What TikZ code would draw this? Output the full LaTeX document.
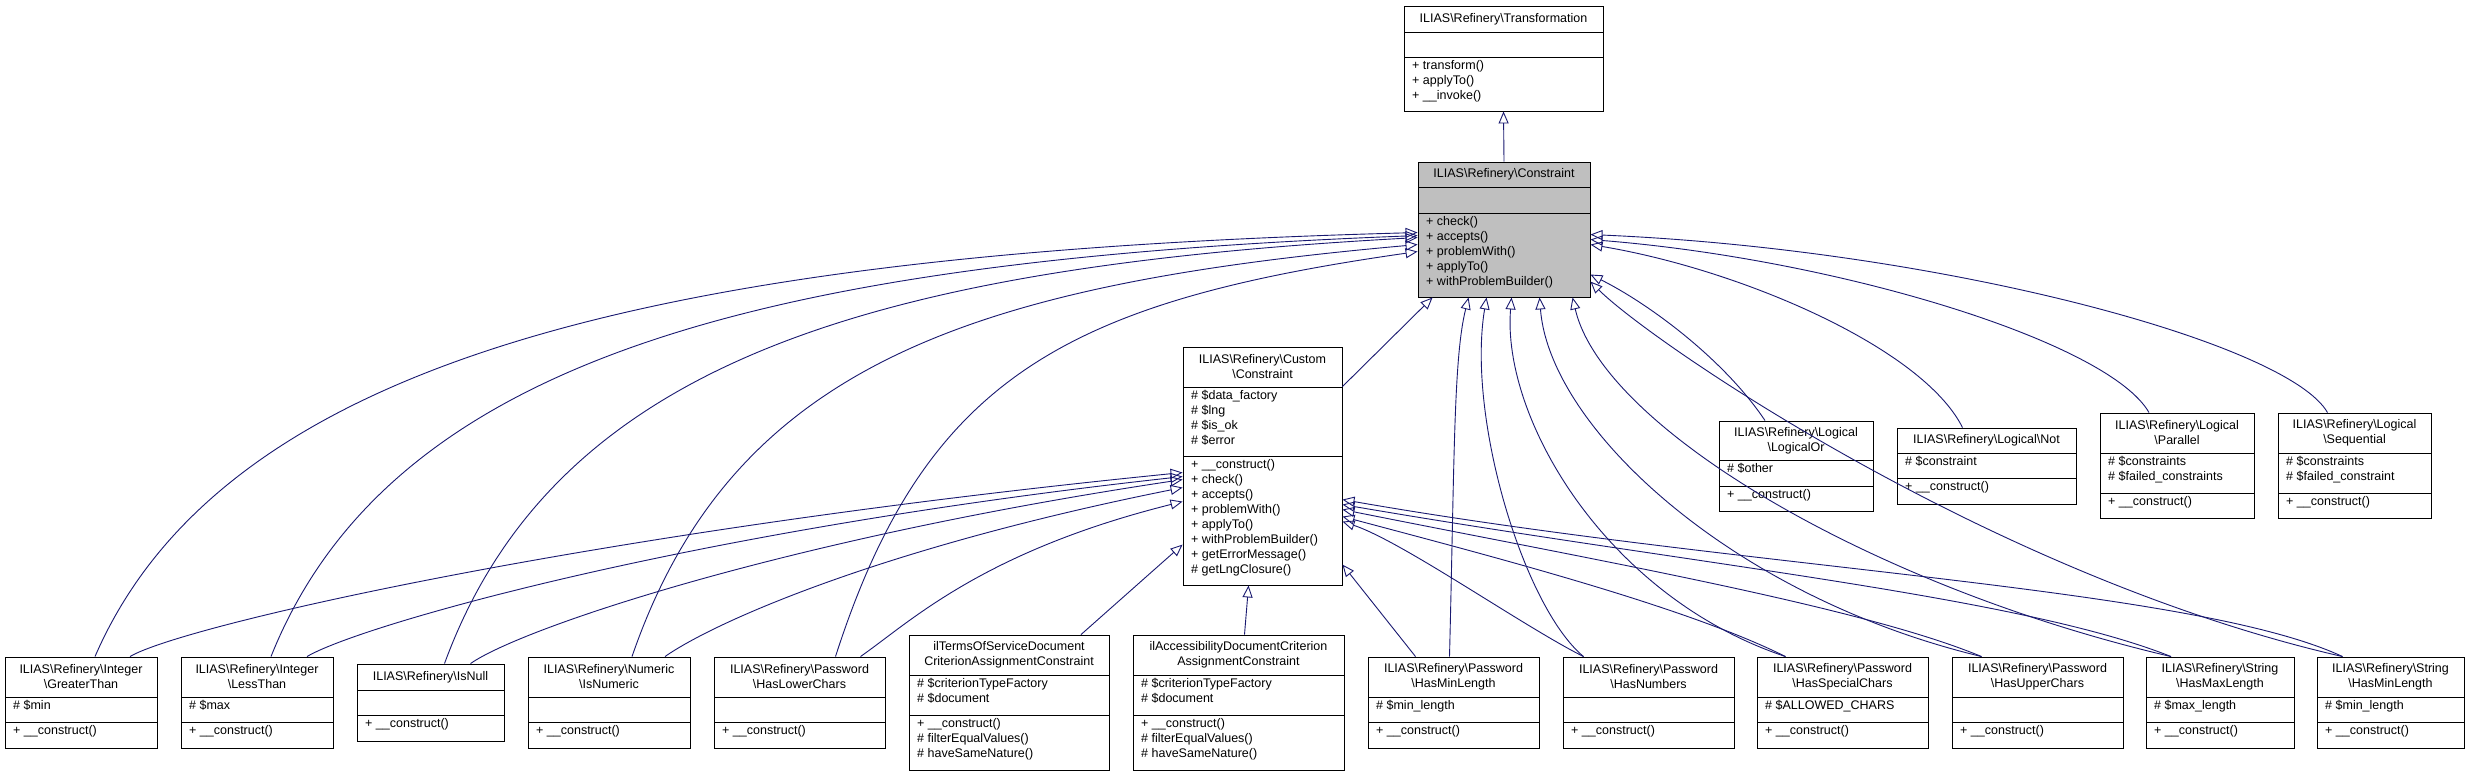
\documentclass[tikz,border=0pt]{standalone}
\usepackage{fontspec}
\setmainfont{Liberation Sans}
\usetikzlibrary{fit,arrows.meta}
\definecolor{navy}{HTML}{191970}
\definecolor{gbox}{HTML}{BFBFBF}
\newcommand\bsl{\textbackslash}
\newcommand\cls[8]{%
  \node[draw=black, line width=0.9pt, fill=#8, inner sep=0, fit={(#2,#4) (#3,#7)}] (#1) {};
  \draw[line width=0.9pt] (#2,#5) -- (#3,#5) (#2,#6) -- (#3,#6);}
\newcommand\ttl[5]{\node[txt, align=center] at ({(#1+#2)/2},{(#3+#4)/2}) {#5};}
\newcommand\lst[3]{\node[txt, anchor=north west, align=left] at ({#1+8},{#2+3}) {#3};}
\begin{document}
\begin{tikzpicture}[x=1pt,y=-1pt,
  txt/.style={inner sep=0, font=\fontsize{12.5}{15}\selectfont},
  ed/.style={draw=navy, line width=0.9pt, -{Triangle[open,length=12pt,width=10pt]}}]
\useasboundingbox[fill=white] (0,0) rectangle (2469,772);
% boxes
\cls{trans}{1404}{1603}{6}{32}{57}{111}{white}
\ttl{1404}{1603}{6}{32}{ILIAS\bsl Refinery\bsl Transformation}
\lst{1404}{57}{+ transform()\\+ applyTo()\\+ \_\_invoke()}
\cls{cons}{1418}{1590}{162}{187}{213}{297}{gbox}
\ttl{1418}{1590}{162}{187}{ILIAS\bsl Refinery\bsl Constraint}
\lst{1418}{213}{+ check()\\+ accepts()\\+ problemWith()\\+ applyTo()\\+ withProblemBuilder()}
\cls{custom}{1183}{1342}{347}{387}{456}{585}{white}
\ttl{1183}{1342}{347}{387}{ILIAS\bsl Refinery\bsl Custom\\\bsl Constraint}
\lst{1183}{387}{\# \$data\_factory\\\# \$lng\\\# \$is\_ok\\\# \$error}
\lst{1183}{456}{+ \_\_construct()\\+ check()\\+ accepts()\\+ problemWith()\\+ applyTo()\\+ withProblemBuilder()\\+ getErrorMessage()\\\# getLngClosure()}
\cls{gt}{5}{157}{657}{697}{722}{748}{white}
\ttl{5}{157}{657}{697}{ILIAS\bsl Refinery\bsl Integer\\\bsl GreaterThan}
\lst{5}{697}{\# \$min}\lst{5}{722}{+ \_\_construct()}
\cls{lt}{181}{333}{657}{697}{722}{748}{white}
\ttl{181}{333}{657}{697}{ILIAS\bsl Refinery\bsl Integer\\\bsl LessThan}
\lst{181}{697}{\# \$max}\lst{181}{722}{+ \_\_construct()}
\cls{isnull}{357}{504}{664}{690}{715}{741}{white}
\ttl{357}{504}{664}{690}{ILIAS\bsl Refinery\bsl IsNull}
\lst{357}{715}{+ \_\_construct()}
\cls{isnum}{528}{690}{657}{697}{722}{748}{white}
\ttl{528}{690}{657}{697}{ILIAS\bsl Refinery\bsl Numeric\\\bsl IsNumeric}
\lst{528}{722}{+ \_\_construct()}
\cls{lower}{714}{885}{657}{697}{722}{748}{white}
\ttl{714}{885}{657}{697}{ILIAS\bsl Refinery\bsl Password\\\bsl HasLowerChars}
\lst{714}{722}{+ \_\_construct()}
\cls{tos}{909}{1109}{635}{675}{715}{770}{white}
\ttl{909}{1109}{635}{675}{ilTermsOfServiceDocument\\CriterionAssignmentConstraint}
\lst{909}{675}{\# \$criterionTypeFactory\\\# \$document}
\lst{909}{715}{+ \_\_construct()\\\# filterEqualValues()\\\# haveSameNature()}
\cls{acc}{1133}{1344}{635}{675}{715}{770}{white}
\ttl{1133}{1344}{635}{675}{ilAccessibilityDocumentCriterion\\AssignmentConstraint}
\lst{1133}{675}{\# \$criterionTypeFactory\\\# \$document}
\lst{1133}{715}{+ \_\_construct()\\\# filterEqualValues()\\\# haveSameNature()}
\cls{pminl}{1368}{1539}{657}{697}{722}{748}{white}
\ttl{1368}{1539}{657}{697}{ILIAS\bsl Refinery\bsl Password\\\bsl HasMinLength}
\lst{1368}{697}{\# \$min\_length}\lst{1368}{722}{+ \_\_construct()}
\cls{pnum}{1563}{1734}{657}{697}{722}{748}{white}
\ttl{1563}{1734}{657}{697}{ILIAS\bsl Refinery\bsl Password\\\bsl HasNumbers}
\lst{1563}{722}{+ \_\_construct()}
\cls{pspec}{1757}{1928}{657}{697}{722}{748}{white}
\ttl{1757}{1928}{657}{697}{ILIAS\bsl Refinery\bsl Password\\\bsl HasSpecialChars}
\lst{1757}{697}{\# \$ALLOWED\_CHARS}\lst{1757}{722}{+ \_\_construct()}
\cls{pupper}{1952}{2123}{657}{697}{722}{748}{white}
\ttl{1952}{2123}{657}{697}{ILIAS\bsl Refinery\bsl Password\\\bsl HasUpperChars}
\lst{1952}{722}{+ \_\_construct()}
\cls{smax}{2146}{2294}{657}{697}{722}{748}{white}
\ttl{2146}{2294}{657}{697}{ILIAS\bsl Refinery\bsl String\\\bsl HasMaxLength}
\lst{2146}{697}{\# \$max\_length}\lst{2146}{722}{+ \_\_construct()}
\cls{smin}{2317}{2464}{657}{697}{722}{748}{white}
\ttl{2317}{2464}{657}{697}{ILIAS\bsl Refinery\bsl String\\\bsl HasMinLength}
\lst{2317}{697}{\# \$min\_length}\lst{2317}{722}{+ \_\_construct()}
\cls{lor}{1719}{1873}{421}{460}{486}{511}{white}
\ttl{1719}{1873}{421}{460}{ILIAS\bsl Refinery\bsl Logical\\\bsl LogicalOr}
\lst{1719}{460}{\# \$other}\lst{1719}{486}{+ \_\_construct()}
\cls{lnot}{1897}{2076}{428}{453}{478}{504}{white}
\ttl{1897}{2076}{428}{453}{ILIAS\bsl Refinery\bsl Logical\bsl Not}
\lst{1897}{453}{\# \$constraint}\lst{1897}{478}{+ \_\_construct()}
\cls{lpar}{2100}{2254}{413}{453}{493}{518}{white}
\ttl{2100}{2254}{413}{453}{ILIAS\bsl Refinery\bsl Logical\\\bsl Parallel}
\lst{2100}{453}{\# \$constraints\\\# \$failed\_constraints}\lst{2100}{493}{+ \_\_construct()}
\cls{lseq}{2278}{2431}{413}{453}{493}{518}{white}
\ttl{2278}{2431}{413}{453}{ILIAS\bsl Refinery\bsl Logical\\\bsl Sequential}
\lst{2278}{453}{\# \$constraints\\\# \$failed\_constraint}\lst{2278}{493}{+ \_\_construct()}
% edges to Transformation
\draw[ed] (cons.north) -- (trans.south);
% edges to Constraint
\draw[ed] ([xshift=14pt]gt.north) .. controls +(130,-300) and +(-750,20) .. ([yshift=-71pt]cons.north west);
\draw[ed] ([xshift=14pt]lt.north) .. controls +(120,-300) and +(-650,25) .. ([yshift=-74pt]cons.north west);
\draw[ed] ([xshift=14pt]isnull.north) .. controls +(110,-300) and +(-550,30) .. ([yshift=-76pt]cons.north west);
\draw[ed] ([xshift=23pt]isnum.north) .. controls +(100,-290) and +(-450,40) .. ([yshift=-83pt]cons.north west);
\draw[ed] ([xshift=36pt]lower.north) .. controls +(90,-280) and +(-350,50) .. ([yshift=-90pt]cons.north west);
\draw[ed] ([yshift=-40pt]custom.north east) -- ([xshift=15pt]cons.south west);
\draw[ed] ([xshift=-4pt]pminl.north) .. controls +(5,-200) and +(-15,60) .. ([xshift=51pt]cons.south west);
\draw[ed] ([xshift=-65pt]pnum.north) .. controls +(-60,-50) and +(-20,120) .. ([xshift=69pt]cons.south west);
\draw[ed] ([xshift=-57pt]pspec.north) .. controls +(-180,-60) and +(-10,120) .. ([xshift=94pt]cons.south west);
\draw[ed] ([xshift=-56pt]pupper.north) .. controls +(-250,-60) and +(10,130) .. ([xshift=122pt]cons.south west);
\draw[ed] ([xshift=-49pt]smax.north) .. controls +(-300,-70) and +(30,130) .. ([xshift=155pt]cons.south west);
\draw[ed] ([xshift=-48pt]smin.north) .. controls +(-350,-80) and +(60,60) .. ([yshift=-120pt]cons.north east);
\draw[ed] ([xshift=-31pt]lor.north) .. controls +(-40,-60) and +(60,30) .. ([yshift=-113pt]cons.north east);
\draw[ed] ([xshift=-24pt]lnot.north) .. controls +(-40,-80) and +(150,25) .. ([yshift=-83pt]cons.north east);
\draw[ed] ([xshift=-28pt]lpar.north) .. controls +(-40,-70) and +(250,20) .. ([yshift=-78pt]cons.north east);
\draw[ed] ([xshift=-27pt]lseq.north) .. controls +(-40,-70) and +(350,15) .. ([yshift=-73pt]cons.north east);
% edges to Custom
\draw[ed] ([xshift=49pt]gt.north) .. controls +(50,-30) and +(-600,60) .. ([yshift=-126pt]custom.north west);
\draw[ed] ([xshift=50pt]lt.north) .. controls +(50,-30) and +(-500,55) .. ([yshift=-130pt]custom.north west);
\draw[ed] ([xshift=40pt]isnull.north) .. controls +(50,-35) and +(-400,60) .. ([yshift=-133pt]custom.north west);
\draw[ed] ([xshift=56pt]isnum.north) .. controls +(50,-35) and +(-300,60) .. ([yshift=-141pt]custom.north west);
\draw[ed] ([xshift=61pt]lower.north) .. controls +(50,-35) and +(-200,50) .. ([yshift=-155pt]custom.north west);
\draw[ed] ([xshift=72pt]tos.north) -- ([yshift=-198pt]custom.north west);
\draw[ed] ([xshift=6pt]acc.north) -- ([xshift=66pt]custom.south west);
\draw[ed] ([xshift=-38pt]pminl.north) -- ([yshift=-218pt]custom.north east);
\draw[ed] ([xshift=-65pt]pnum.north) .. controls +(-60,-30) and +(60,20) .. ([yshift=-175pt]custom.north east);
\draw[ed] ([xshift=-57pt]pspec.north) .. controls +(-100,-50) and +(150,40) .. ([yshift=-170pt]custom.north east);
\draw[ed] ([xshift=-56pt]pupper.north) .. controls +(-120,-50) and +(250,50) .. ([yshift=-163pt]custom.north east);
\draw[ed] ([xshift=-49pt]smax.north) .. controls +(-150,-60) and +(350,60) .. ([yshift=-158pt]custom.north east);
\draw[ed] ([xshift=-48pt]smin.north) .. controls +(-150,-70) and +(400,70) .. ([yshift=-153pt]custom.north east);
\end{tikzpicture}
\end{document}
